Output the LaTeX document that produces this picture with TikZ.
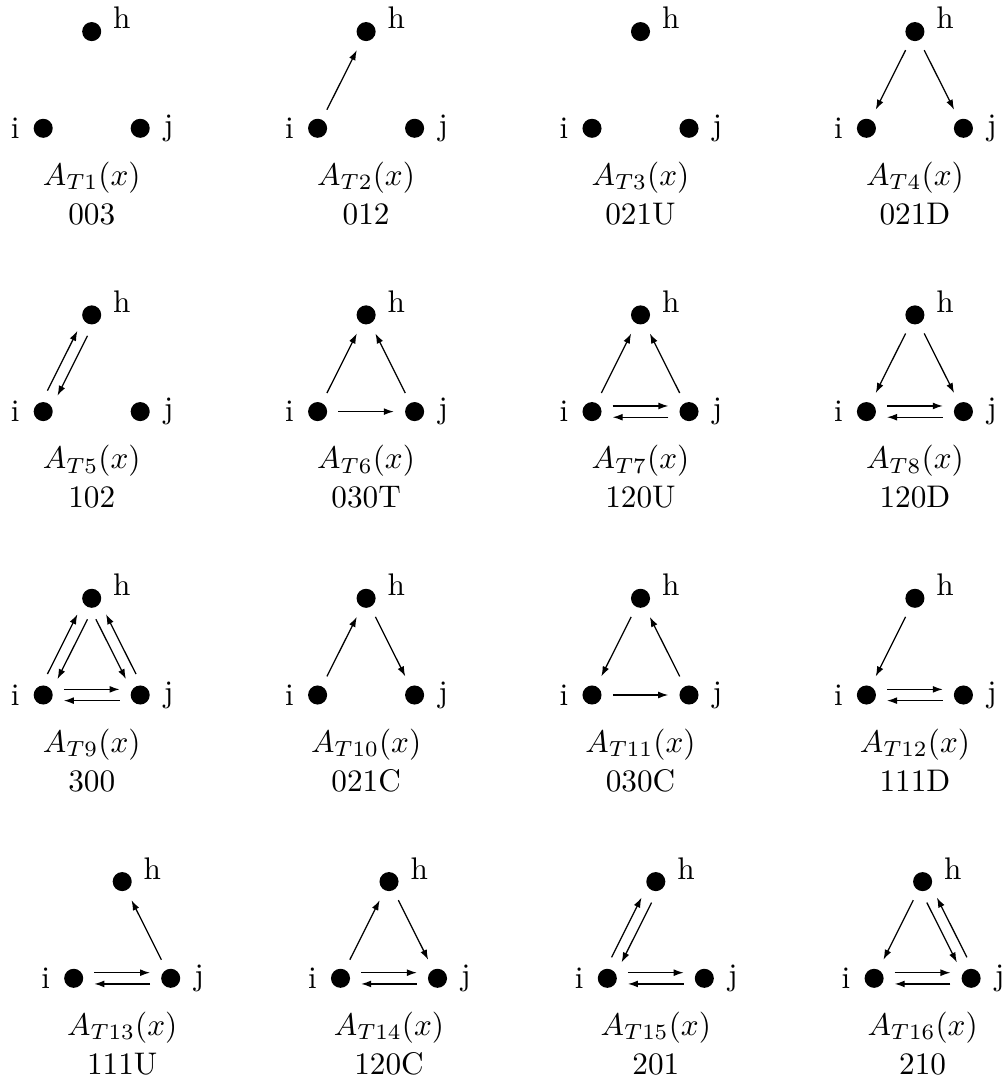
\documentclass[tikz,border=0pt]{standalone}
\usepackage{tikz}
\usetikzlibrary{arrows.meta,calc}
\tikzset{
  dot/.style={circle,fill=black,inner sep=0pt,outer sep=0pt,minimum size=6.1pt},
  arc/.style={-{Latex[length=3.2pt,width=2.2pt]},shorten <=3.6pt,shorten >=3.6pt},
  arcc/.style={-{Latex[length=3.2pt,width=2.2pt]},shorten <=6.6pt,shorten >=6.6pt},
}
\newcommand{\gap}{1.8pt}

\begin{document}
\begin{tikzpicture}[x=0.32pt,y=-0.32pt]
\useasboundingbox (0,0) rectangle (1006,1082);
% the sixteen triads
\foreach \n/\x/\y/\code in {
  1/91.7/128.3/003, 2/366.1/128.3/012, 3/640.5/128.3/021U, 4/914.9/128.3/021D,
  5/91.7/411.6/102, 6/366.1/411.6/030T, 7/640.5/411.6/120U, 8/914.9/411.6/120D,
  9/91.7/695/300, 10/366.1/695/021C, 11/640.5/695/030C, 12/914.9/695/111D,
  13/122.2/978.3/111U, 14/389/978.3/120C, 15/655.8/978.3/201, 16/922.6/978.3/210
}{
  \node[dot,label={[label distance=0.3pt,yshift=4.3pt]right:h}] (h\n) at (\x,\y-96.7) {};
  \node[dot,label={[label distance=1pt]left:i}] (i\n) at (\x-48.5,\y) {};
  \node[dot,label={[label distance=1pt]right:j}] (j\n) at (\x+48.5,\y) {};
  \node[anchor=base] (cap\n) at (\x,\y+57) {$A_{T\n}(x)$};
  \node[anchor=base] (code\n) at (\x,\y+96) {\code};
}
% single ties
\foreach \a/\b in {i2/h2, h4/i4, h4/j4, i6/h6, j6/h6, i6/j6, i7/h7, j7/h7,
  h8/i8, h8/j8, i10/h10, h10/j10, h11/i11, j11/h11, i11/j11, h12/i12,
  j13/h13, i14/h14, h14/j14, h16/i16}
  \draw[arc] (\a) -- (\b);
% mutual ties, left of the direction
\foreach \a/\b in {i5/h5, h5/i5, i7/j7, j7/i7, i8/j8, j8/i8, i9/h9, h9/i9,
  i9/j9, j9/i9, i12/j12, j12/i12, i13/j13, j13/i13, i14/j14, j14/i14,
  i15/h15, h15/i15, i15/j15, j15/i15, i16/j16, j16/i16}
  \draw[arcc] ($(\a)!\gap!90:(\b)$) -- ($(\b)!\gap!-90:(\a)$);
% mutual ties, right of the direction
\foreach \a/\b in {h9/j9, j9/h9, h16/j16, j16/h16}
  \draw[arcc] ($(\a)!\gap!-90:(\b)$) -- ($(\b)!\gap!90:(\a)$);
\end{tikzpicture}
\end{document}
